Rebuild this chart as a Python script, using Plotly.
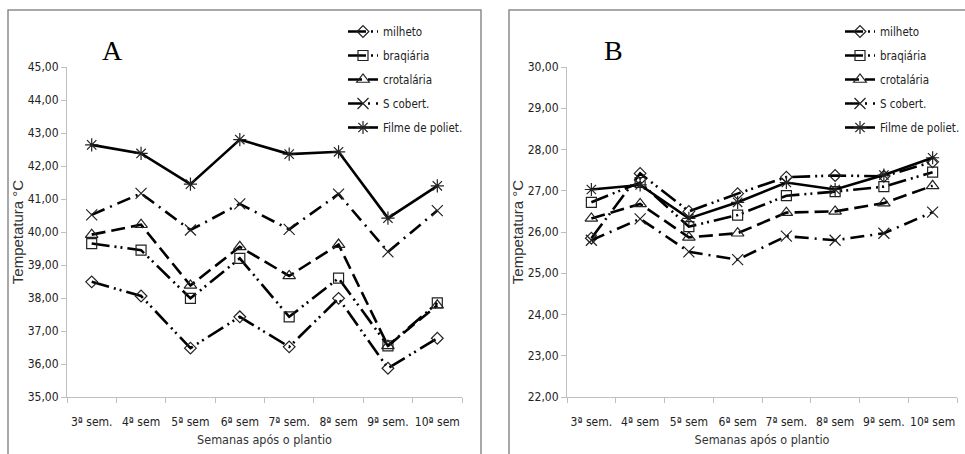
import plotly.graph_objects as go

weeks = ["3ª sem.", "4ª sem", "5ª sem", "6ª sem", "7ª sem.", "8ª sem", "9ª sem.", "10ª sem"]
series_names = ["milheto", "braqiária", "crotalária", "S cobert.", "Filme de poliet."]

# Panel A
a_milheto = [38.49, 38.06, 36.48, 37.43, 36.52, 37.99, 35.87, 36.78]
a_braquiaria = [39.65, 39.45, 37.99, 39.20, 37.43, 38.60, 36.55, 37.85]
a_crotalaria = [39.92, 40.22, 38.38, 39.55, 38.67, 39.62, 36.55, 37.78]
a_scobert = [40.52, 41.17, 40.06, 40.85, 40.08, 41.15, 39.40, 40.65]
a_filme = [42.64, 42.38, 41.45, 42.80, 42.36, 42.43, 40.42, 41.40]

# Panel B
b_milheto = [25.85, 27.42, 26.50, 26.93, 27.33, 27.37, 27.35, 27.70]
b_braquiaria = [26.72, 27.20, 26.13, 26.41, 26.88, 26.98, 27.10, 27.45]
b_crotalaria = [26.33, 26.68, 25.87, 25.97, 26.47, 26.50, 26.70, 27.12]
b_scobert = [25.80, 26.32, 25.52, 25.33, 25.90, 25.80, 25.97, 26.48]
b_filme = [27.03, 27.14, 26.33, 26.72, 27.20, 27.03, 27.38, 27.80]

W, H = 965, 454
def px(x):
    return x / W
def py(y):
    return 1 - y / H

dashes = ["18px,5px,2px,4px,2px,5px", "18px,5px,2px,4px,2px,5px", "14px,6px", "14px,6px,2px,6px", "solid"]
symbols = ["diamond-open", "square-open", "triangle-up-open", "x-thin-open", "asterisk-open"]
sizes = [9, 10, 11, 11, 11]

fig = go.Figure()
panels = [
    ("x", "y", "legend", [a_milheto, a_braquiaria, a_crotalaria, a_scobert, a_filme]),
    ("x2", "y2", "legend2", [b_milheto, b_braquiaria, b_crotalaria, b_scobert, b_filme]),
]
for xa, ya, leg, data in panels:
    for i, (name, vals) in enumerate(zip(series_names, data)):
        fig.add_trace(go.Scatter(
            x=weeks, y=vals, name=name, xaxis=xa, yaxis=ya, legend=leg,
            mode="lines+markers",
            line=dict(color="black", width=2.6, dash=dashes[i]),
            marker=dict(symbol=symbols[i], size=sizes[i], color="#222",
                        line=dict(color="#222", width=1.2)),
            legendgroup=f"{leg}{i}",
        ))

narrow = "DejaVu Sans Condensed, Liberation Sans Narrow, Liberation Sans, Arial"
axis_common = dict(
    showline=True, linecolor="#bfbfbf", linewidth=1, ticks="outside",
    tickcolor="#bfbfbf", ticklen=5, showgrid=False, zeroline=False,
    automargin=False,
    tickfont=dict(family=narrow, size=12, color="#222"),
)
xcommon = dict(axis_common, type="category", tickson="boundaries",
               range=[-0.5, 7.5], tickangle=0, ticklabelstandoff=14,
               title=dict(text="Semanas após o plantio",
                          font=dict(family=narrow, size=12.5, color="#333"),
                          standoff=6))
ycommon = dict(axis_common, tickformat=".2f",
               title=dict(text="Tempetatura °C",
                          font=dict(family="Liberation Sans, Arial", size=15, color="#333"),
                          standoff=0))

fig.update_layout(
    width=W, height=H, autosize=False,
    margin=dict(l=0, r=0, t=0, b=0, pad=0, autoexpand=False),
    paper_bgcolor="white", plot_bgcolor="white", separators=",.",
    xaxis=dict(xcommon, domain=[px(67), px(462)], anchor="y"),
    yaxis=dict(ycommon, domain=[py(397), py(67)], range=[35, 45], dtick=1, anchor="x"),
    xaxis2=dict(xcommon, domain=[px(567), px(957)], anchor="y2"),
    yaxis2=dict(ycommon, domain=[py(397), py(67)], range=[22, 30], dtick=1, anchor="x2"),
    legend=dict(x=px(343), y=py(17), xanchor="left", yanchor="top",
                font=dict(family=narrow, size=11.5, color="#222"),
                bgcolor="rgba(0,0,0,0)", tracegroupgap=5, itemwidth=30),
    legend2=dict(x=px(840), y=py(17), xanchor="left", yanchor="top",
                 font=dict(family=narrow, size=11.5, color="#222"),
                 bgcolor="rgba(0,0,0,0)", tracegroupgap=5, itemwidth=30),
    showlegend=True,
)

# panel frames
fig.add_shape(type="rect", xref="paper", yref="paper",
              x0=px(8), x1=px(481), y0=py(460), y1=py(10),
              line=dict(color="#8c8c8c", width=1.5), fillcolor="rgba(0,0,0,0)", layer="below")
fig.add_shape(type="rect", xref="paper", yref="paper",
              x0=px(509), x1=px(972), y0=py(460), y1=py(10),
              line=dict(color="#8c8c8c", width=1.5), fillcolor="rgba(0,0,0,0)", layer="below")

fig.add_annotation(text="A", xref="paper", yref="paper", x=px(112), y=py(51),
                   xanchor="center", yanchor="middle",
                   showarrow=False, font=dict(family="Liberation Serif, Times New Roman", size=28, color="black"))
fig.add_annotation(text="B", xref="paper", yref="paper", x=px(613), y=py(51),
                   xanchor="center", yanchor="middle",
                   showarrow=False, font=dict(family="Liberation Serif, Times New Roman", size=28, color="black"))

fig.write_html("out.html", config={"displayModeBar": False, "responsive": False},
               post_script="document.body.style.margin='0';document.body.style.overflow='hidden';")
